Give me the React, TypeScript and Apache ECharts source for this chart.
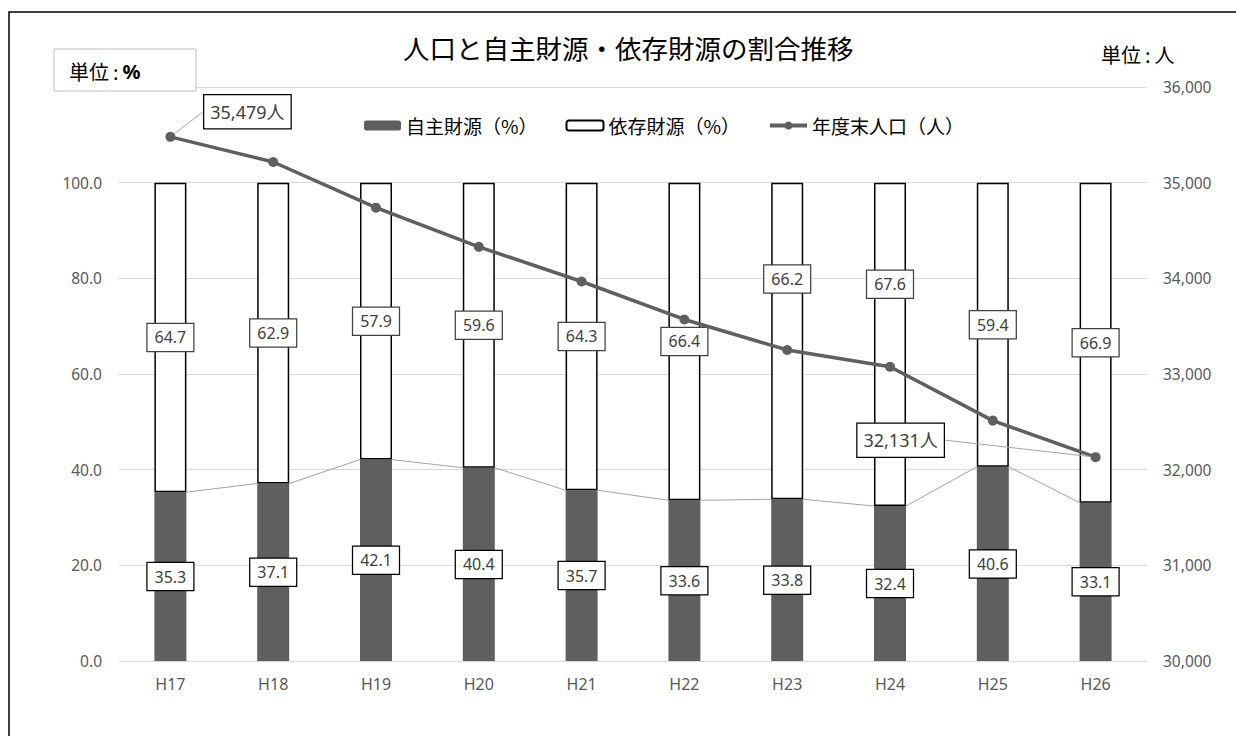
import React, { useEffect, useRef } from "react";
import * as echarts from "echarts";

const categories = ["H17", "H18", "H19", "H20", "H21", "H22", "H23", "H24", "H25", "H26"];
const ownRevenue = [35.3, 37.1, 42.1, 40.4, 35.7, 33.6, 33.8, 32.4, 40.6, 33.1];
const dependentRevenue = [64.7, 62.9, 57.9, 59.6, 64.3, 66.4, 66.2, 67.6, 59.4, 66.9];
const population = [35479, 35216, 34739, 34329, 33967, 33570, 33251, 33076, 32513, 32131];

const seriesNames = ["自主財源（%）", "依存財源（%）", "年度末人口（人）"];
const titleText = "人口と自主財源・依存財源の割合推移";

const FONT = "'Noto Sans', 'Noto Sans CJK JP', sans-serif";
const JP = "'Noto Sans CJK JP', 'Noto Sans', sans-serif";
const BAR_WIDTH = 32;
const DARK = "#5f5f5f";

// vertical nudges of some 依存財源 labels (as placed in the original)
const depLabelShift: Record<number, number> = { 6: -62, 7: -60 };
// placement of the population call-outs relative to their point
const popLabelPos: Record<number, [number, number]> = { 0: [77, -25], 9: [-195, -17] };

const boxLabel = {
  fontFamily: FONT,
  fontSize: 16,
  color: "#404040",
  backgroundColor: "#fff",
  borderWidth: 1.25,
  padding: [5, 7],
  lineHeight: 17,
};

const unitRich = {
  a: { fontFamily: JP, fontSize: 20, color: "#000" },
  c: { fontFamily: JP, fontSize: 20, color: "#000", padding: [0, 4, 0, 4] },
  b: { fontFamily: FONT, fontSize: 20, color: "#000", fontWeight: "bold" },
};

export default function App() {
  const ref = useRef<HTMLDivElement>(null);
  useEffect(() => {
    if (!ref.current) return;
    const chart = echarts.init(ref.current, null, { renderer: "svg" });
    const last = population.length - 1;
    const option: any = {
      animation: false,
      backgroundColor: "#fff",
      title: {
        text: titleText,
        left: 403,
        top: 34,
        padding: 0,
        textStyle: { fontFamily: JP, fontSize: 26.5, fontWeight: "normal", color: "#000" },
      },
      legend: {
        data: [
          { name: seriesNames[0] },
          { name: seriesNames[1] },
          { name: seriesNames[2], lineStyle: { width: 4 } },
        ],
        left: 364,
        top: 116,
        padding: 0,
        itemGap: 28,
        itemWidth: 37,
        itemHeight: 10,
        textStyle: { fontFamily: JP, fontSize: 19, color: "#000" },
      },
      grid: { left: 119, right: 89, top: 87, bottom: 75 },
      xAxis: {
        type: "category",
        data: categories,
        axisLine: { show: false },
        axisTick: { show: false },
        axisLabel: { margin: 15, fontSize: 16, color: "#595959", fontFamily: FONT },
      },
      yAxis: [
        {
          type: "value",
          min: 0,
          max: 120,
          interval: 20,
          axisLine: { show: false },
          axisTick: { show: false },
          axisLabel: {
            margin: 17,
            fontSize: 15.5,
            color: "#595959",
            fontFamily: FONT,
            formatter: (v: number) => (v >= 120 ? "" : v.toFixed(1)),
          },
          splitLine: { lineStyle: { color: "#d9d9d9", width: 1 } },
        },
        {
          type: "value",
          min: 30000,
          max: 36000,
          interval: 1000,
          position: "right",
          axisLine: { show: false },
          axisTick: { show: false },
          axisLabel: {
            margin: 16,
            fontSize: 15.5,
            color: "#595959",
            fontFamily: FONT,
            formatter: (v: number) => v.toLocaleString("en-US"),
          },
          splitLine: { show: false },
        },
      ],
      series: [
        {
          name: seriesNames[0],
          type: "bar",
          stack: "ratio",
          barWidth: BAR_WIDTH,
          data: ownRevenue,
          itemStyle: { color: DARK },
          label: {
            show: true,
            position: "inside",
            formatter: (p: any) => Number(p.value).toFixed(1),
            ...boxLabel,
            borderColor: "#000",
          },
          z: 2,
        },
        {
          name: seriesNames[1],
          type: "bar",
          stack: "ratio",
          barWidth: BAR_WIDTH,
          data: dependentRevenue.map((v, i) =>
            depLabelShift[i] !== undefined ? { value: v, label: { offset: [0, depLabelShift[i]] } } : v
          ),
          itemStyle: { color: "#fff", borderColor: "#000", borderWidth: 1.5 },
          label: {
            show: true,
            position: "inside",
            formatter: (p: any) => Number(p.value).toFixed(1),
            ...boxLabel,
            borderColor: "#404040",
          },
          z: 2,
        },
        {
          type: "custom",
          silent: true,
          z: 3,
          renderItem: (params: any, api: any) => {
            const i = api.value(0);
            const a = api.coord([i, api.value(1)]);
            const b = api.coord([i + 1, api.value(2)]);
            const half = BAR_WIDTH / 2;
            return {
              type: "line",
              shape: { x1: a[0] + half, y1: a[1], x2: b[0] - half, y2: b[1] },
              style: { stroke: "#a5a5a5", lineWidth: 1 },
            };
          },
          data: ownRevenue.slice(0, -1).map((v, i) => [i, v, ownRevenue[i + 1]]),
        },
        {
          name: seriesNames[2],
          type: "line",
          yAxisIndex: 1,
          z: 5,
          symbol: "circle",
          symbolSize: 10,
          lineStyle: { color: DARK, width: 3.5 },
          itemStyle: { color: DARK },
          data: population.map((v, i) =>
            i === 0 || i === last ? { value: v, label: { show: true } } : v
          ),
          label: {
            show: false,
            formatter: (p: any) => Number(p.value).toLocaleString("en-US") + "人",
            fontFamily: FONT,
            fontSize: 18,
            color: "#404040",
            backgroundColor: "#fff",
            borderColor: "#000",
            borderWidth: 1.25,
            padding: [6, 6],
            lineHeight: 21,
          },
          labelLine: { show: true, lineStyle: { color: "#a5a5a5", width: 1 } },
          labelLayout: (p: any) => {
            const pos = popLabelPos[p.dataIndex];
            if (!pos || !p.rect) return {};
            return {
              x: p.rect.x + p.rect.width / 2 + pos[0],
              y: p.rect.y + p.rect.height / 2 + pos[1],
              align: "center",
              verticalAlign: "middle",
            };
          },
        },
      ],
      graphic: [
        {
          type: "rect",
          silent: true,
          z: 100,
          shape: { x: 9, y: 12, width: 1400, height: 900 },
          style: { fill: "none", stroke: "#000", lineWidth: 1.5 },
        },
        {
          type: "rect",
          silent: true,
          z: 50,
          shape: { x: 54, y: 49, width: 142, height: 42 },
          style: { fill: "#fff", stroke: "#bfbfbf", lineWidth: 1 },
        },
        {
          type: "text",
          silent: true,
          z: 51,
          x: 69,
          y: 71,
          style: {
            text: "{a|単位}{c|:}{b|%}",
            rich: unitRich,
            verticalAlign: "middle",
          },
        },
        {
          type: "text",
          silent: true,
          z: 51,
          x: 1101,
          y: 54,
          style: {
            text: "{a|単位}{c|:}{a|人}",
            rich: unitRich,
            verticalAlign: "middle",
          },
        },
      ],
    };
    chart.setOption(option);
    return () => chart.dispose();
  }, []);
  return (
    <div
      ref={ref}
      style={{ position: "fixed", left: 0, top: 0, width: 1236, height: 736, background: "#fff" }}
    />
  );
}
